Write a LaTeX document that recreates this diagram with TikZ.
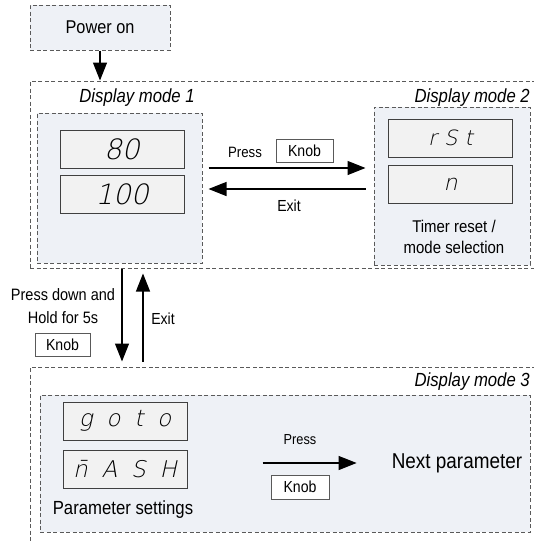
\documentclass[tikz,border=0pt]{standalone}
\usepackage{fontspec}
\setmainfont{Liberation Sans}[FakeStretch=0.88]
\newfontfamily\segfont{DejaVu Sans ExtraLight}[FakeSlant=0.22]
\usetikzlibrary{arrows.meta,calc}
\definecolor{panelfill}{HTML}{EEF1F6}
\definecolor{dispfill}{HTML}{F2F2F2}
\definecolor{dashgray}{HTML}{5A5A5A}
\tikzset{
  dashbox/.style={draw=dashgray,dash pattern=on 4pt off 2.5pt,line width=1pt},
  panel/.style={dashbox,fill=panelfill},
  display/.style={draw=black!75,fill=dispfill,line width=1pt,minimum width=124,minimum height=38,inner sep=0pt,font=\segfont\fontsize{#1}{#1}\selectfont},
  display/.default=23,
  keybox/.style={draw=black!65,fill=white,line width=0.8pt,minimum height=23,inner sep=0pt,font=\fontsize{16}{18}\selectfont},
  arr/.style={line width=1.1pt,-{Triangle[length=18pt,width=14pt]}},
  lbl/.style={font=\fontsize{#1}{#1}\selectfont,inner sep=0pt},
  lbl/.default=16,
  modelbl/.style={font=\itshape\fontsize{19}{22}\selectfont,inner sep=0pt}
}

\begin{document}
\begin{tikzpicture}[x=1pt,y=-1pt]
\useasboundingbox (0,0) rectangle (534,541);
\clip (0,0) rectangle (534,541);

\node[panel,minimum width=140,minimum height=45,lbl=18.5] (power) at (100,27.5) {Power on};

\node[dashbox,minimum width=530,minimum height=187] (outer1) at (295,174.5) {};
\node[dashbox,minimum width=530,minimum height=200] (outer3) at (295,467) {};
\node[panel,minimum width=165,minimum height=150] (box1) at (119.5,188) {};
\node[panel,minimum width=156,minimum height=158] (box2) at (452,186) {};
\node[panel,minimum width=490,minimum height=137] (box3) at (285,463.5) {};

\node[modelbl] (mode1) at (137,98) {Display mode 1};
\node[modelbl,anchor=east] (mode2) at (530,98) {Display mode 2};
\node[modelbl,anchor=east] (mode3) at (530,382) {Display mode 3};

\node[display=28] (d80) at (122,149) {80};
\node[display=28] (d100) at (122,194) {100};
\node[display=21] (drst) at (450.5,138) {r\hspace{0.35em}S\hspace{0.35em}t};
\node[display=22] (dn) at (450.5,184) {n};
\node[display] (dgoto) at (125,421) {g\hspace{.6em}o\hspace{.6em}t\hspace{.6em}o};
\node[display] (dmash) at (125,469) {\=n\hspace{.6em}A\hspace{.6em}S\hspace{.6em}H};

\node[lbl=15] (press1) at (245,152) {Press};
\node[keybox,minimum width=57] (knob1) at (304.5,150.5) {Knob};
\node[lbl] (exit1) at (289,206) {Exit};
\node[font=\fontsize{17}{21}\selectfont,align=center,inner sep=0pt] (timer) at (454,237) {Timer reset /\\mode selection};

\node[font=\fontsize{16.5}{23}\selectfont,align=center,inner sep=0pt] (hold) at (63,306) {Press down and\\Hold for 5s};
\node[keybox,minimum width=55] (knob2) at (62.5,344.5) {Knob};
\node[lbl] (exit2) at (163,319) {Exit};

\node[lbl=19] (psettings) at (123,510) {Parameter settings};
\node[lbl=21.5] (next) at (457,463) {Next parameter};
\node[lbl=14.5] (press2) at (300,440) {Press};
\node[keybox,minimum width=58,minimum height=24] (knob3) at (300,487) {Knob};

\draw[arr] (power) -- (power |- outer1.north);
\draw[arr] ($(box1.east)+(6,-20)$) -- ($(box1.east -| box2.west)+(-8,-20)$);
\draw[arr] ($(box1.east -| box2.west)+(-8,1)$) -- ($(box1.east)+(6,1)$);
\draw[arr] (outer1.south -| d80.south) -- ($(outer3.north -| d80.south)+(0,-5)$);
\draw[arr] ($(outer3.north -| d80.south)+(21,-5)$) -- ($(outer1.south -| d80.south)+(21,5)$);
\draw[arr] ($(next.west)+(-129,0)$) -- ($(next.west)+(-35,0)$);
\end{tikzpicture}
\end{document}
